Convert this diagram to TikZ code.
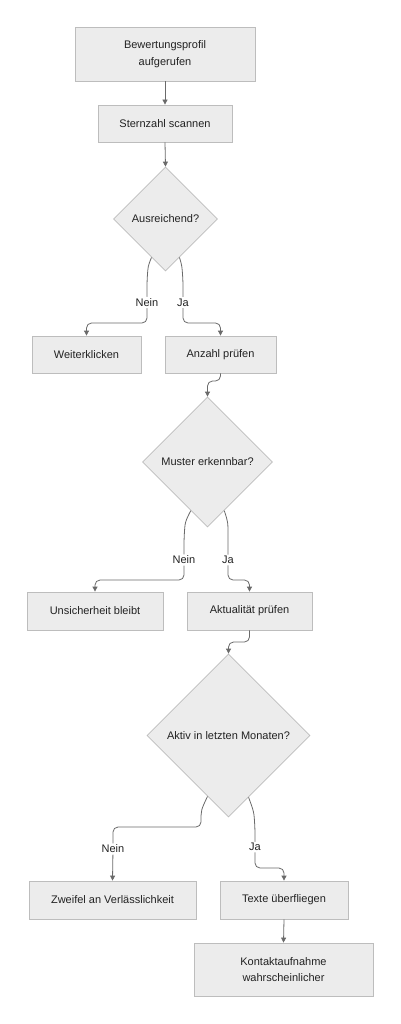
\documentclass[tikz,border=0pt]{standalone}
\usepackage{fontspec}
\setmainfont{Liberation Sans}
\usetikzlibrary{shapes.geometric,arrows.meta,calc}
\definecolor{boxfill}{HTML}{ECECEC}
\definecolor{boxline}{HTML}{BDBDBD}
\definecolor{edgecol}{HTML}{6A6A6A}
\definecolor{txt}{HTML}{222222}
\begin{document}
\begin{tikzpicture}[x=1pt,y=-1pt,
  every node/.style={font=\fontsize{11}{16.5}\selectfont, text=txt},
  box/.style={draw=boxline, fill=boxfill, line width=0.8pt, rectangle, inner sep=0pt, align=center},
  dia/.style={draw=boxline, fill=boxfill, line width=0.8pt, diamond, inner sep=0pt, aspect=1},
  edge/.style={draw=edgecol, line width=0.8pt, rounded corners=5pt, -{Triangle[length=5pt,width=5pt]}},
  lbl/.style={fill=white, inner sep=1.5pt}]
\useasboundingbox (0,0) rectangle (401,1024);
\fill[white] (0,0) rectangle (401,1024);

\node[box, minimum width=180pt, minimum height=54pt] (b1) at (165,54) {Bewertungsprofil\\aufgerufen};
\node[box, minimum width=134pt, minimum height=37pt] (b2) at (165,123.5) {Sternzahl scannen};
\node[dia, minimum width=104pt, minimum height=104pt] (d1) at (165.5,219) {Ausreichend?};
\node[box, minimum width=109pt, minimum height=37pt] (w1) at (86.5,354.5) {Weiterklicken};
\node[box, minimum width=111pt, minimum height=37pt] (a1) at (220.5,354.5) {Anzahl prüfen};
\node[dia, minimum width=130pt, minimum height=130pt] (d2) at (207.5,462) {Muster erkennbar?};
\node[box, minimum width=136pt, minimum height=38pt] (u1) at (95,611) {Unsicherheit bleibt};
\node[box, minimum width=125pt, minimum height=38pt] (a2) at (249.5,611) {Aktualität prüfen};
\node[dia, minimum width=163pt, minimum height=163pt] (d3) at (228.5,735.5) {Aktiv in letzten Monaten?};
\node[box, minimum width=167pt, minimum height=38pt] (z1) at (112.5,900) {Zweifel an Verlässlichkeit};
\node[box, minimum width=128pt, minimum height=38pt] (t1) at (284,900) {Texte überfliegen};
\node[box, minimum width=179pt, minimum height=53pt] (k1) at (283.5,969.5) {Kontaktaufnahme\\wahrscheinlicher};

\draw[edge] (b1.south) -- (b2.north);
\draw[edge] (b2.south) -- (d1.north);

\draw[edge] (d1.-110) .. controls (148,266) .. (147,282) -- node[lbl]{Nein} (147,323) -| (w1.north);
\draw[edge] (d1.-70) .. controls (182,266) .. (183,282) -- node[lbl]{Ja} (183,323) -| (a1.north);

\draw[edge] (a1.south) -- (220.5,381) -| (d2.north);

\draw[edge] (d2.-109) .. controls (185,522) .. (184,540) -- node[lbl]{Nein} (184,580) -| (u1.north);
\draw[edge] (d2.-71) .. controls (228,522) .. (228,540) -- node[lbl]{Ja} (228,580) -| (a2.north);

\draw[edge] (a2.south) -- (249.5,642) -| (d3.north);

\draw[edge] (d3.-109) .. controls (201,810) .. (201,827) -| (113,849) node[lbl]{Nein} -- (z1.north);
\draw[edge] (d3.-72.7) .. controls (254,812) .. (255,830) -- node[lbl, pos=0.45]{Ja} (255,868) -| (t1.north);

\draw[edge] (t1.south) -- (k1.north);
\end{tikzpicture}
\end{document}
